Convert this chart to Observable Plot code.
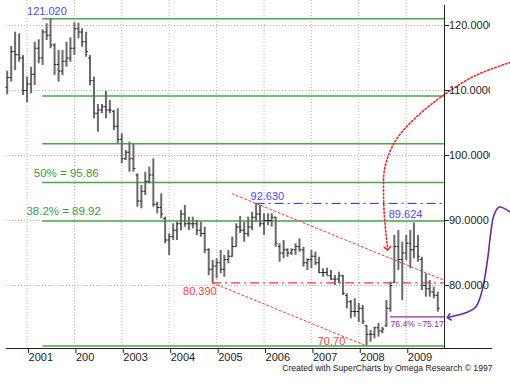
<!DOCTYPE html>
<html>
<head>
<meta charset="utf-8">
<script src="https://cdn.jsdelivr.net/npm/d3@7"></script>
<script src="https://cdn.jsdelivr.net/npm/@observablehq/plot@0.6"></script>
<style>
  html, body { margin: 0; padding: 0; background: #fff; }
  #chart { width: 510px; height: 386px; overflow: hidden; }
  svg marker path { stroke-dasharray: none; }
</style>
</head>
<body>
<div id="chart"></div>
<script>
// ---- monthly OHLC bars, Aug 2000 .. Sep 2009 ----
const firstMonth = "2000-08-01";
const lastMonth = "2009-09-01";
const high = [112.97,116.77,118.97,118.72,115.38,112.05,113.58,117.43,117.80,119.34,
120.26,121.02,117.18,116.15,116.15,117.43,118.11,120.42,120.35,119.49,
118.97,115.38,112.05,107.85,107.85,109.89,108.46,106.92,107.18,103.34,
100.77,102.05,101.80,97.18,95.38,97.43,98.20,99.49,92.82,94.11,
90.51,87.95,89.49,89.74,91.54,92.31,90.51,90.51,90.00,89.74,
88.97,85.65,83.85,84.11,85.38,84.62,85.38,87.43,89.49,90.62,
89.74,90.51,91.28,92.63,92.31,91.03,91.03,91.03,90.51,86.42,
86.92,85.65,85.65,86.42,87.18,85.89,84.11,85.38,85.12,84.35,
82.57,82.66,82.31,81.54,82.05,81.54,78.72,77.69,77.95,77.23,
76.92,73.85,73.08,73.58,74.15,73.58,77.69,80.51,87.69,88.46,
86.66,87.69,88.46,89.62,87.69,84.35,81.80,80.77,79.74,78.97];
const low = [109.34,111.28,113.08,114.35,109.23,108.11,109.49,110.77,114.11,113.85,
117.69,116.42,112.31,111.28,112.31,113.58,114.35,115.38,117.95,116.66,
115.12,110.77,105.65,103.58,106.42,105.65,106.42,103.85,101.80,98.72,
99.23,97.43,97.43,92.05,91.80,93.85,95.65,92.05,91.03,90.26,
86.42,84.62,86.92,86.92,88.46,88.97,88.46,88.72,87.69,87.43,
84.88,81.54,80.39,81.03,81.80,81.28,83.34,84.35,85.89,88.00,
86.66,87.43,88.46,89.74,88.97,87.69,89.23,88.97,85.89,83.58,
84.11,84.35,84.62,84.62,85.12,82.82,82.31,82.57,83.08,81.80,
81.28,81.54,80.77,80.00,80.26,78.46,76.42,74.88,75.12,74.31,
74.00,70.70,71.28,71.80,72.05,72.57,73.58,75.89,80.26,82.31,
77.69,83.85,82.57,84.11,83.58,79.23,78.20,78.20,77.95,75.89];
const open = [110.5,112.0,116.0,115.5,115.0,110.0,111.0,112.5,116.5,115.0,
119.0,118.5,117.0,114.0,113.0,114.5,115.0,116.5,119.5,119.0,
117.5,115.0,111.5,106.5,107.0,107.5,107.0,106.8,104.5,102.5,
99.5,100.5,99.5,97.0,93.0,94.5,96.0,97.0,92.5,92.0,
90.3,87.0,87.5,88.5,89.5,91.0,89.5,89.5,89.5,88.5,
88.0,85.5,82.5,83.0,83.5,82.5,84.0,84.5,86.0,89.0,
88.5,88.0,89.0,90.5,91.0,89.5,90.0,90.0,90.5,86.0,
85.0,85.5,85.0,85.5,86.0,85.5,83.5,84.0,84.5,83.5,
82.0,82.0,81.5,81.0,81.0,81.5,78.5,77.5,76.0,76.0,
76.5,73.8,72.5,72.5,73.5,73.0,73.8,76.5,80.5,86.0,
84.0,85.0,86.5,85.5,86.0,84.0,80.0,79.5,79.0,78.5];
const close = [112.0,116.0,115.5,115.0,110.0,111.0,112.5,116.5,115.0,119.0,
118.5,117.0,114.0,113.0,114.5,115.0,116.5,119.5,119.0,117.5,
116.0,111.5,106.5,107.0,107.5,107.0,107.0,104.5,102.5,99.5,
100.5,99.5,98.0,93.0,94.5,96.0,97.0,92.5,92.0,91.0,
87.0,87.5,88.5,89.5,91.0,89.5,89.5,89.5,88.5,88.0,
85.5,82.5,83.0,83.5,82.5,84.0,84.5,86.0,89.0,88.5,
88.0,89.0,90.5,91.0,89.5,90.0,90.0,90.5,86.5,85.0,
85.5,85.0,85.5,86.0,85.5,83.5,84.0,84.5,83.5,82.0,
82.0,81.5,81.0,81.0,81.5,78.8,77.5,76.0,76.0,76.5,
74.5,72.5,72.5,73.5,73.0,73.3,76.5,80.0,86.0,84.0,
85.0,86.5,85.5,86.0,84.5,80.0,79.5,79.0,78.5,76.5];

// ---- axes ----
const yTicks = [80, 90, 100, 110, 120];
const yearTicks = ["2001-01-01","2002-01-01","2003-01-01","2004-01-01","2005-01-01",
                   "2006-01-01","2007-01-01","2008-01-01","2009-01-01"];
const yearLabels = ["2001","200","2003","2004","2005","2006","2007","2008","2009"];

// ---- Fibonacci levels (121.02 high -> 70.70 low) ----
const fibLevels = [121.02, 109.14, 101.80, 95.86, 89.92, 70.70];
const fibStart = "2001-05-01";
const levelEnd = "2009-10-22";
const highLevel = {value: 92.63, start: "2005-11-01"};
const lowLevel = {value: 80.39, start: "2004-12-01"};
const targetLevel = {value: 75.17, start: "2008-09-01"};

// ---- channel lines ----
const channelLower = [["2004-12-01", 80.39], ["2008-03-01", 70.70]];
const channelUpper = [["2005-05-01", 94.12], [levelEnd, 80.78]];

// ---- free-hand arrows (date, value) ----
const redArrow = [["2011-03-13",114.31],["2010-06-19",112.31],["2009-10-22",109.38],["2009-04-19",106.46],
  ["2008-11-19",103.38],["2008-09-01",100.77],["2008-07-16",97.7],["2008-07-10",94.62],
  ["2008-07-16",90.77],["2008-08-10",85.69]];
const purpleArrow = [["2011-03-13",91.28],["2010-12-16",92.05],["2010-11-07",90.77],["2010-10-13",87.95],
  ["2010-09-22",84.35],["2010-08-25",80.77],["2010-07-25",78.2],["2010-06-19",76.66],
  ["2010-04-16",75.89],["2009-11-25",75.12]];

// ---- text annotations ----
const labelTexts  = ["121.020", "50% = 95.86", "38.2% = 89.92", "92.630", "89.624", "80.390", "70.70", "76.4% =75.17"];
const labelDates  = ["2001-01-01", "2001-02-22", "2000-12-27", "2005-09-19", "2008-08-19", "2004-04-17", "2007-02-19", "2008-09-01"];
const labelValues = [122.12, 97.31, 91.38, 93.72, 90.92, 79.15, 71.42, 74.11];
const labelColors = ["#4848ff", "#3c9a3c", "#3c9a3c", "#4848ff", "#4848ff", "#ff3b3b", "#ff3b3b", "#8a2c9c"];
const labelSizes  = [11, 11.5, 11.5, 11, 11, 11, 11, 8.6];
const caption = "Created with SuperCharts by Omega Research \u00a9 1997";

// ---- build ----
const D = s => new Date(s);
const months = d3.utcMonth.range(D(firstMonth), d3.utcMonth.offset(D(lastMonth), 1));
const bars = months.map((date, i) => ({date, open: open[i], high: high[i], low: low[i], close: close[i]}));
const pts = arr => arr.map(([d, v]) => ({date: D(d), value: v}));
const yearMap = new Map(yearTicks.map((d, i) => [+D(d), yearLabels[i]]));

const openSym = {draw(ctx) { ctx.moveTo(-1.8, 0); ctx.lineTo(0, 0); }};
const closeSym = {draw(ctx) { ctx.moveTo(0, 0); ctx.lineTo(1.8, 0); }};

const green = "#48a848";
const red = "#ff3030";

const marks = [
  Plot.ruleX(yearTicks.map(D), {stroke: "#b4b4b4", strokeDasharray: "1,2"}),
  Plot.ruleY(yTicks, {stroke: "#b4b4b4", strokeDasharray: "1,2"}),
  Plot.ruleY(fibLevels, {y: d => d, x1: D(fibStart), x2: D(levelEnd), stroke: green, strokeWidth: 1.5}),
  Plot.ruleY([highLevel], {y: "value", x1: d => D(d.start), x2: D(levelEnd), stroke: "#2a2ae0", strokeWidth: 1, strokeDasharray: "9,4,2,4"}),
  Plot.ruleY([lowLevel], {y: "value", x1: d => D(d.start), x2: D(levelEnd), stroke: red, strokeWidth: 1.2, strokeDasharray: "9,4,2,4"}),
  Plot.ruleY([targetLevel], {y: "value", x1: d => D(d.start), x2: D(levelEnd), stroke: "#8a2c9c", strokeWidth: 1.3}),
  Plot.line(pts(channelLower), {x: "date", y: "value", stroke: red, strokeWidth: 1, strokeDasharray: "2,2.5"}),
  Plot.line(pts(channelUpper), {x: "date", y: "value", stroke: red, strokeWidth: 1, strokeDasharray: "2,2.5"}),
  Plot.ruleX(bars, {x: "date", y1: "low", y2: "high", stroke: "#6a6a6a", strokeWidth: 2}),
  Plot.dot(bars, {x: "date", y: "open", symbol: openSym, fill: "none", stroke: "#222", strokeWidth: 1}),
  Plot.dot(bars, {x: "date", y: "close", symbol: closeSym, fill: "none", stroke: "#222", strokeWidth: 1}),
  Plot.line(pts(redArrow), {x: "date", y: "value", curve: "catmull-rom", stroke: "#ff2020", strokeWidth: 1.6, strokeDasharray: "1.5,2.2", markerEnd: "arrow"}),
  Plot.line(pts(purpleArrow), {x: "date", y: "value", curve: "catmull-rom", stroke: "#6a2aa8", strokeWidth: 1.6, markerEnd: "arrow"}),
  ...labelTexts.map((t, i) => Plot.text([t], {
    x: D(labelDates[i]), y: labelValues[i], text: d => d, textAnchor: "start",
    fill: labelColors[i], fontSize: labelSizes[i]
  })),
  Plot.text([caption], {frameAnchor: "bottom-right", textAnchor: "end", dx: 48, dy: 22, fontSize: 8.6, fill: "#222"}),
  Plot.axisY(yTicks, {anchor: "right", tickSize: 4, tickPadding: 0.5, tickFormat: d => d.toFixed(4), fontSize: 11, fill: "#222", stroke: "#222"}),
  Plot.axisX(yearTicks.map(D), {anchor: "bottom", tickSize: 5, tickPadding: 0, tickFormat: d => yearMap.get(+d), textAnchor: "start", dx: 1.5, fontSize: 11, fill: "#222", stroke: "#222"})
];

const svgNode = Plot.plot({
  width: 510, height: 386,
  marginLeft: 6, marginRight: 66, marginTop: 0, marginBottom: 38,
  x: {type: "utc", domain: [D(firstMonth), D(lastMonth)], range: [6.7, 437.3], axis: null},
  y: {type: "linear", domain: [80, 120], range: [285, 25], axis: null},
  style: {fontFamily: "'Liberation Sans', Arial, sans-serif", fontSize: "11px", color: "#222", background: "#fff", overflow: "hidden"},
  marks
});

document.getElementById("chart").append(svgNode);

// frame lines of the chart window (layout only) and label clipping at the window edge
const svg = d3.select(svgNode);
svg.append("defs").append("clipPath").attr("id", "ylab-clip")
  .append("rect").attr("x", 0).attr("y", 0).attr("width", 490).attr("height", 386);
const wrap = svg.append("g").attr("clip-path", "url(#ylab-clip)");
svg.selectAll("g").filter(function () {
  const a = this.getAttribute("aria-label") || "";
  return a.startsWith("y-axis") && a.includes("label");
}).each(function () { wrap.node().appendChild(this); });
svg.append("line").attr("x1", 444.5).attr("x2", 444.5).attr("y1", 5).attr("y2", 348).attr("stroke", "#222");
svg.append("line").attr("x1", 6).attr("x2", 492).attr("y1", 348.5).attr("y2", 348.5).attr("stroke", "#222");
</script>
</body>
</html>
